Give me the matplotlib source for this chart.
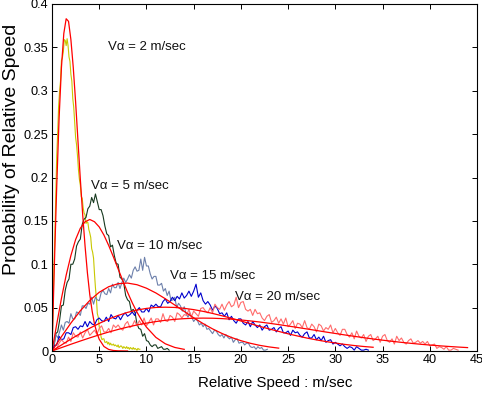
import numpy as np
import matplotlib
matplotlib.use("Agg")
import matplotlib.pyplot as plt

plt.rcParams['font.family'] = ['Liberation Sans', 'DejaVu Sans']

# ---------------- data ----------------
# measured histograms (relative speed bins: start 0, fixed step)
step_2, step_5, step_10, step_15, step_20 = 0.1, 0.2, 0.2, 0.25, 0.25

hist_2 = [0.000, 0.044, 0.093, 0.132, 0.179, 0.225, 0.251, 0.282, 0.299, 0.311,
          0.335, 0.338, 0.345, 0.359, 0.358, 0.352, 0.360, 0.352, 0.339, 0.334,
          0.319, 0.311, 0.291, 0.281, 0.264, 0.246, 0.238, 0.225, 0.209, 0.198,
          0.191, 0.178, 0.176, 0.165, 0.159, 0.157, 0.147, 0.149, 0.148, 0.140,
          0.136, 0.131, 0.118, 0.114, 0.107, 0.089, 0.073, 0.061, 0.043, 0.039,
          0.028, 0.024, 0.016, 0.013, 0.014, 0.014, 0.010, 0.010, 0.011, 0.008,
          0.010, 0.007, 0.009, 0.007, 0.007, 0.008, 0.006, 0.007, 0.006, 0.005,
          0.007, 0.004, 0.005, 0.006, 0.005, 0.003, 0.005, 0.004, 0.003, 0.005,
          0.003, 0.004, 0.002, 0.004, 0.003, 0.002, 0.004, 0.002, 0.003, 0.002,
          0.001, 0.003, 0.002, 0.002]

hist_5 = [0.000, 0.004, 0.020, 0.022, 0.035, 0.052, 0.053, 0.070, 0.079, 0.083,
          0.100, 0.100, 0.106, 0.121, 0.126, 0.129, 0.146, 0.152, 0.154, 0.164,
          0.167, 0.177, 0.171, 0.181, 0.172, 0.163, 0.163, 0.156, 0.144, 0.135,
          0.133, 0.120, 0.122, 0.110, 0.101, 0.100, 0.085, 0.083, 0.078, 0.064,
          0.059, 0.057, 0.046, 0.048, 0.044, 0.031, 0.026, 0.025, 0.017, 0.020,
          0.012, 0.011, 0.007, 0.005, 0.007, 0.007, 0.003, 0.004, 0.005, 0.002,
          0.002, 0.003, 0.001]

hist_10 = [0.000, 0.006, 0.019, 0.015, 0.022, 0.030, 0.024, 0.033, 0.034, 0.032,
           0.043, 0.037, 0.037, 0.045, 0.044, 0.041, 0.052, 0.052, 0.049, 0.055,
           0.054, 0.062, 0.054, 0.062, 0.059, 0.058, 0.067, 0.070, 0.066, 0.065,
           0.072, 0.067, 0.077, 0.073, 0.073, 0.079, 0.072, 0.079, 0.084, 0.079,
           0.083, 0.088, 0.084, 0.093, 0.097, 0.092, 0.093, 0.106, 0.093, 0.108,
           0.098, 0.098, 0.089, 0.083, 0.086, 0.086, 0.076, 0.076, 0.078, 0.069,
           0.072, 0.064, 0.069, 0.058, 0.059, 0.062, 0.050, 0.055, 0.052, 0.046,
           0.051, 0.043, 0.039, 0.044, 0.039, 0.034, 0.037, 0.035, 0.030, 0.032,
           0.028, 0.031, 0.025, 0.026, 0.023, 0.020, 0.024, 0.023, 0.019, 0.017,
           0.019, 0.015, 0.019, 0.016, 0.014, 0.016, 0.010, 0.013, 0.014, 0.009,
           0.010, 0.010, 0.007, 0.009, 0.009, 0.005, 0.004, 0.005, 0.002, 0.005,
           0.003, 0.004, 0.001, 0.001, 0.002]

hist_15 = [0.000, 0.006, 0.007, 0.017, 0.013, 0.014, 0.021, 0.021, 0.019, 0.027,
           0.028, 0.025, 0.029, 0.028, 0.034, 0.028, 0.034, 0.031, 0.030, 0.036,
           0.038, 0.035, 0.034, 0.039, 0.034, 0.042, 0.038, 0.037, 0.041, 0.036,
           0.041, 0.044, 0.040, 0.042, 0.045, 0.041, 0.047, 0.050, 0.045, 0.045,
           0.049, 0.045, 0.053, 0.051, 0.054, 0.051, 0.051, 0.057, 0.060, 0.055,
           0.057, 0.062, 0.058, 0.063, 0.060, 0.067, 0.061, 0.064, 0.069, 0.063,
           0.069, 0.077, 0.062, 0.067, 0.058, 0.054, 0.057, 0.053, 0.047, 0.052,
           0.049, 0.043, 0.044, 0.040, 0.044, 0.036, 0.040, 0.035, 0.032, 0.037,
           0.037, 0.032, 0.030, 0.034, 0.028, 0.034, 0.030, 0.027, 0.030, 0.024,
           0.028, 0.030, 0.024, 0.025, 0.027, 0.022, 0.026, 0.028, 0.021, 0.021,
           0.023, 0.018, 0.024, 0.021, 0.022, 0.018, 0.016, 0.020, 0.022, 0.015,
           0.015, 0.019, 0.013, 0.016, 0.012, 0.017, 0.010, 0.012, 0.013, 0.008,
           0.010, 0.008, 0.006, 0.008, 0.005, 0.003, 0.005, 0.004, 0.001, 0.005,
           0.003, 0.001, 0.001, 0.002, 0.001]

hist_20 = [0.000, 0.002, 0.003, 0.009, 0.013, 0.010, 0.009, 0.016, 0.011, 0.021,
           0.017, 0.016, 0.022, 0.015, 0.021, 0.025, 0.018, 0.021, 0.024, 0.019,
           0.026, 0.029, 0.022, 0.022, 0.026, 0.021, 0.030, 0.027, 0.030, 0.026,
           0.024, 0.031, 0.034, 0.027, 0.029, 0.035, 0.029, 0.035, 0.030, 0.038,
           0.029, 0.033, 0.038, 0.030, 0.037, 0.037, 0.033, 0.043, 0.035, 0.034,
           0.041, 0.039, 0.034, 0.044, 0.042, 0.038, 0.042, 0.041, 0.048, 0.039,
           0.046, 0.043, 0.040, 0.049, 0.050, 0.046, 0.044, 0.050, 0.044, 0.054,
           0.050, 0.048, 0.054, 0.047, 0.053, 0.057, 0.051, 0.053, 0.062, 0.050,
           0.056, 0.057, 0.048, 0.046, 0.048, 0.041, 0.048, 0.043, 0.044, 0.038,
           0.035, 0.040, 0.042, 0.033, 0.035, 0.039, 0.032, 0.037, 0.031, 0.038,
           0.028, 0.031, 0.035, 0.026, 0.032, 0.031, 0.027, 0.035, 0.027, 0.025,
           0.031, 0.028, 0.022, 0.031, 0.029, 0.023, 0.027, 0.025, 0.030, 0.021,
           0.026, 0.021, 0.018, 0.025, 0.025, 0.019, 0.016, 0.021, 0.014, 0.023,
           0.017, 0.015, 0.019, 0.011, 0.017, 0.019, 0.012, 0.014, 0.017, 0.010,
           0.017, 0.019, 0.012, 0.010, 0.014, 0.008, 0.017, 0.012, 0.015, 0.010,
           0.008, 0.012, 0.014, 0.009, 0.010, 0.012, 0.009, 0.011, 0.008, 0.011,
           0.006, 0.007, 0.008, 0.003, 0.005, 0.004, 0.002, 0.005, 0.001, 0.001,
           0.003, 0.002, 0.001]

# fitted distribution curves
fit_x_2 = [0, 0.25, 0.5, 0.75, 1.0, 1.25, 1.5, 1.75, 2.0, 2.25, 2.5, 2.75, 3.0,
           3.25, 3.5, 3.75, 4.0, 4.25, 4.5, 4.75, 5.0, 5.5, 6.0, 6.5, 7.0, 8.0]
fit_y_2 = [0, 0.0988, 0.190, 0.268, 0.327, 0.366, 0.383, 0.380, 0.359, 0.327,
           0.287, 0.242, 0.198, 0.157, 0.121, 0.090, 0.065, 0.046, 0.031, 0.021,
           0.0135, 0.0052, 0.0018, 0.0006, 0.0002, 0.0]

fit_x_5 = [0, 0.5, 1, 1.5, 2, 2.5, 3, 3.5, 4, 4.5, 5, 5.5, 6, 6.5, 7, 7.5, 8,
           8.5, 9, 9.5, 10, 11, 12, 13, 14]
fit_y_5 = [0, 0.031, 0.0606, 0.0874, 0.110, 0.1285, 0.1415, 0.149, 0.1516,
           0.149, 0.143, 0.1336, 0.1217, 0.1085, 0.0947, 0.081, 0.0677, 0.0555,
           0.0447, 0.0354, 0.0275, 0.0157, 0.0083, 0.0041, 0.0019]

fit_x_10 = list(range(0, 25))
fit_y_10 = [0, 0.01653, 0.0322, 0.0464, 0.0583, 0.0677, 0.0741, 0.0776, 0.0783,
            0.0764, 0.0724, 0.0669, 0.0602, 0.0530, 0.0456, 0.0383, 0.0316,
            0.0255, 0.0202, 0.0156, 0.0119, 0.0089, 0.0065, 0.0047, 0.0033]

fit_x_15 = list(range(0, 35))
fit_y_15 = [0, 0.00692, 0.0137, 0.0202, 0.0263, 0.0318, 0.0368, 0.0410, 0.0445,
            0.0472, 0.0491, 0.0502, 0.0505, 0.0502, 0.0492, 0.0477, 0.0457,
            0.0433, 0.0406, 0.0377, 0.0346, 0.0315, 0.0284, 0.0254, 0.0226,
            0.0198, 0.0173, 0.0149, 0.0128, 0.0109, 0.0092, 0.0076, 0.0063,
            0.0052, 0.0043]

fit_x_20 = list(range(0, 45))
fit_y_20 = [0, 0.00390, 0.00775, 0.01151, 0.01514, 0.01860, 0.02185, 0.02485,
            0.02758, 0.03002, 0.03214, 0.03393, 0.03539, 0.03651, 0.03729,
            0.03776, 0.03791, 0.03777, 0.03734, 0.03667, 0.03578, 0.03468,
            0.03341, 0.03198, 0.03044, 0.02880, 0.02713, 0.02539, 0.02366,
            0.02188, 0.02021, 0.01852, 0.01692, 0.01535, 0.01389, 0.01250,
            0.01119, 0.00997, 0.00885, 0.00780, 0.00686, 0.00601, 0.00524,
            0.00455, 0.00392]

labels = ["V\u03b1 = 2 m/sec", "V\u03b1 = 5 m/sec", "V\u03b1 = 10 m/sec",
          "V\u03b1 = 15 m/sec", "V\u03b1 = 20 m/sec"]
label_x = [5.9, 4.1, 6.9, 12.5, 19.4]
label_y = [0.350, 0.190, 0.121, 0.0865, 0.062]

x_ticks = [0, 5, 10, 15, 20, 25, 30, 35, 40, 45]
y_ticks = [0, 0.05, 0.1, 0.15, 0.2, 0.25, 0.3, 0.35, 0.4]
y_ticklabels = ["0", "0.05", "0.1", "0.15", "0.2", "0.25", "0.3", "0.35", "0.4"]

# ---------------- plot ----------------
fig = plt.figure(figsize=(4.82, 3.98), dpi=100)
ax = fig.add_axes([52/482, 47/398, 425/482, 347/398])

hist_colors = ['#c8c800', '#17391f', '#6d80ab', '#0000cc', '#ff6c6c']
hists = [(hist_2, step_2), (hist_5, step_5), (hist_10, step_10),
         (hist_15, step_15), (hist_20, step_20)]
for (h, st), c in zip(hists, hist_colors):
    xs = np.arange(len(h)) * st
    ax.plot(xs, h, color=c, lw=0.8)

for fx, fy in [(fit_x_2, fit_y_2), (fit_x_5, fit_y_5), (fit_x_10, fit_y_10),
               (fit_x_15, fit_y_15), (fit_x_20, fit_y_20)]:
    ax.plot(fx, fy, color='#ff0000', lw=0.9)

for t, lx, ly in zip(labels, label_x, label_y):
    ax.text(lx, ly, t, fontsize=9.5, ha='left', va='center', color='#111111')

ax.set_xlim(0, 45)
ax.set_ylim(0, 0.4)
ax.set_xticks(x_ticks)
ax.set_xticklabels([str(v) for v in x_ticks])
ax.set_yticks(y_ticks)
ax.set_yticklabels(y_ticklabels)
ax.tick_params(direction='in', length=3.5, width=0.7, top=True, right=True,
               labelsize=9.2, pad=2.5, colors='black')
for s in ax.spines.values():
    s.set_linewidth(0.8)
ax.set_xlabel("Relative Speed : m/sec", fontsize=10.8)
ax.set_ylabel("Probability of Relative Speed", fontsize=14)
ax.xaxis.set_label_coords(0.525, -0.073)
ax.yaxis.set_label_coords(-0.075, 0.58)

fig.savefig("out.png", dpi=100)
